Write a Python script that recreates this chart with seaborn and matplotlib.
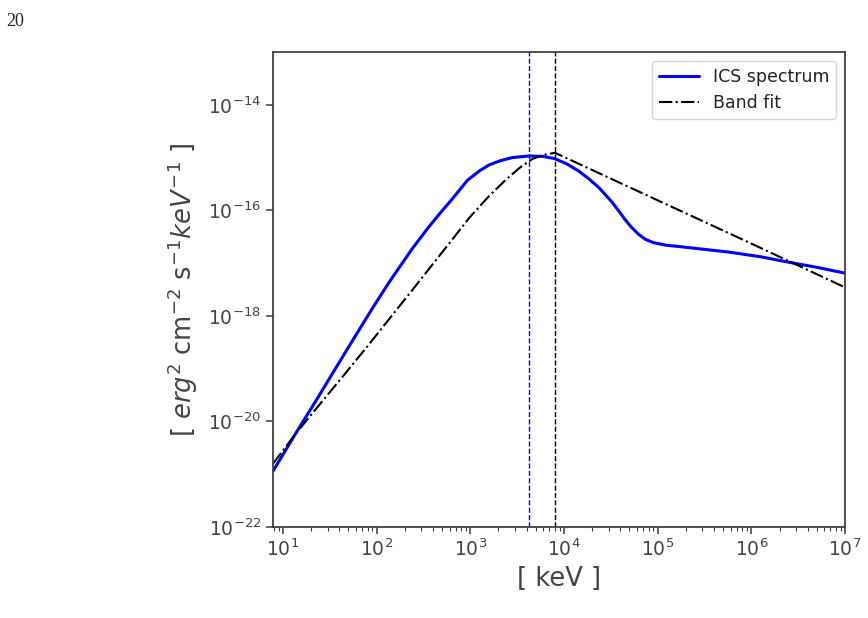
import numpy as np
import pandas as pd
import matplotlib
matplotlib.use("Agg")
import matplotlib.pyplot as plt
from matplotlib.ticker import LogLocator, NullLocator, LogFormatterMathtext
import seaborn as sns

# ICS spectrum (log10 values)
ics_logE = [0.894, 1.128, 1.372, 1.553, 1.68, 1.957, 2.138, 2.383, 2.55, 2.67,
            2.80, 2.97, 3.1, 3.2, 3.32, 3.45, 3.628, 3.78, 3.9, 4.03, 4.16,
            4.27, 4.372, 4.45, 4.51, 4.58, 4.65, 4.72, 4.80, 4.87, 4.95,
            5.085, 5.25, 5.4, 5.755, 6.1, 6.39, 6.7, 7.0]
ics_logF = [-20.94, -20.25, -19.55, -19.02, -18.65, -17.85, -17.35, -16.72, -16.33, -16.07,
            -15.80, -15.43, -15.25, -15.14, -15.06, -15.00, -14.97, -14.98, -15.02, -15.12, -15.26,
            -15.41, -15.57, -15.72, -15.84, -16.00, -16.17, -16.32, -16.46, -16.55, -16.61,
            -16.66, -16.69, -16.72, -16.79, -16.88, -16.98, -17.08, -17.19]

# Band fit
band_logE = [0.894, 1.128, 1.4, 1.624, 1.9, 2.21, 2.435, 2.635, 2.8, 2.99,
             3.2, 3.38, 3.53, 3.66, 3.78, 3.904, 4.16, 5.0, 6.0, 7.0]
band_logF = [-20.80, -20.25, -19.66, -19.18, -18.58, -17.89, -17.39, -16.94, -16.57, -16.14,
             -15.73, -15.42, -15.19, -15.03, -14.95, -14.91, -15.12, -15.81, -16.63, -17.46]

peak_ics = 4250.0
peak_band = 8020.0

xticks = [1e1, 1e2, 1e3, 1e4, 1e5, 1e6, 1e7]
yticks = [1e-22, 1e-20, 1e-18, 1e-16, 1e-14]

sns.set_style("ticks")
plt.rcParams['font.family'] = ['DejaVu Sans']

df_ics = pd.DataFrame({"E": np.power(10.0, ics_logE), "F": np.power(10.0, ics_logF)})
df_band = pd.DataFrame({"E": np.power(10.0, band_logE), "F": np.power(10.0, band_logF)})

fig = plt.figure(figsize=(8.68, 6.18), dpi=100)
ax = fig.add_axes([0.3145, 0.1472, 0.659, 0.7687])

sns.lineplot(data=df_ics, x="E", y="F", ax=ax, color="blue", lw=2.2,
             estimator=None, sort=False, label="ICS spectrum")
sns.lineplot(data=df_band, x="E", y="F", ax=ax, color="black", lw=1.5,
             linestyle="-.", estimator=None, sort=False, label="Band fit")
ax.axvline(peak_ics, color="blue", ls="--", lw=1.0)
ax.axvline(peak_band, color="black", ls="--", lw=1.0)

ax.set_xscale("log")
ax.set_yscale("log")
ax.set_xlim(7.83, 1e7)
ax.set_ylim(1e-22, 1e-13)
ax.set_xticks(xticks)
ax.set_yticks(yticks)
ax.xaxis.set_major_formatter(LogFormatterMathtext())
ax.yaxis.set_major_formatter(LogFormatterMathtext())
ax.xaxis.set_minor_locator(LogLocator(base=10, subs=np.arange(2, 10), numticks=20))
ax.yaxis.set_minor_locator(NullLocator())

txtcol = "#444444"
for s in ax.spines.values():
    s.set_color("#3a3a3a")
    s.set_linewidth(1.25)
ax.tick_params(axis="both", which="major", labelsize=13.5, colors="#3a3a3a",
               labelcolor=txtcol, length=5, width=1.1)
ax.tick_params(axis="x", which="minor", length=3, width=0.8, colors="#3a3a3a")

ax.set_xlabel("[ keV ]", fontsize=18.5, color=txtcol, labelpad=4)
ax.set_ylabel(r"[ $erg^2$ cm$^{-2}$ s$^{-1}$$keV^{-1}$ ]", fontsize=18.5, color=txtcol, labelpad=6)

leg = ax.legend(loc="upper right", fontsize=12.5, frameon=True, handlelength=2.3,
                borderpad=0.4, labelspacing=0.5)
leg.get_frame().set_edgecolor("#cccccc")
for t in leg.get_texts():
    t.set_color("#222222")

fig.text(0.007, 0.965, "20", family="Liberation Serif", fontsize=13, color="#222222",
         va="center", ha="left")

fig.savefig("out.png", dpi=100)
